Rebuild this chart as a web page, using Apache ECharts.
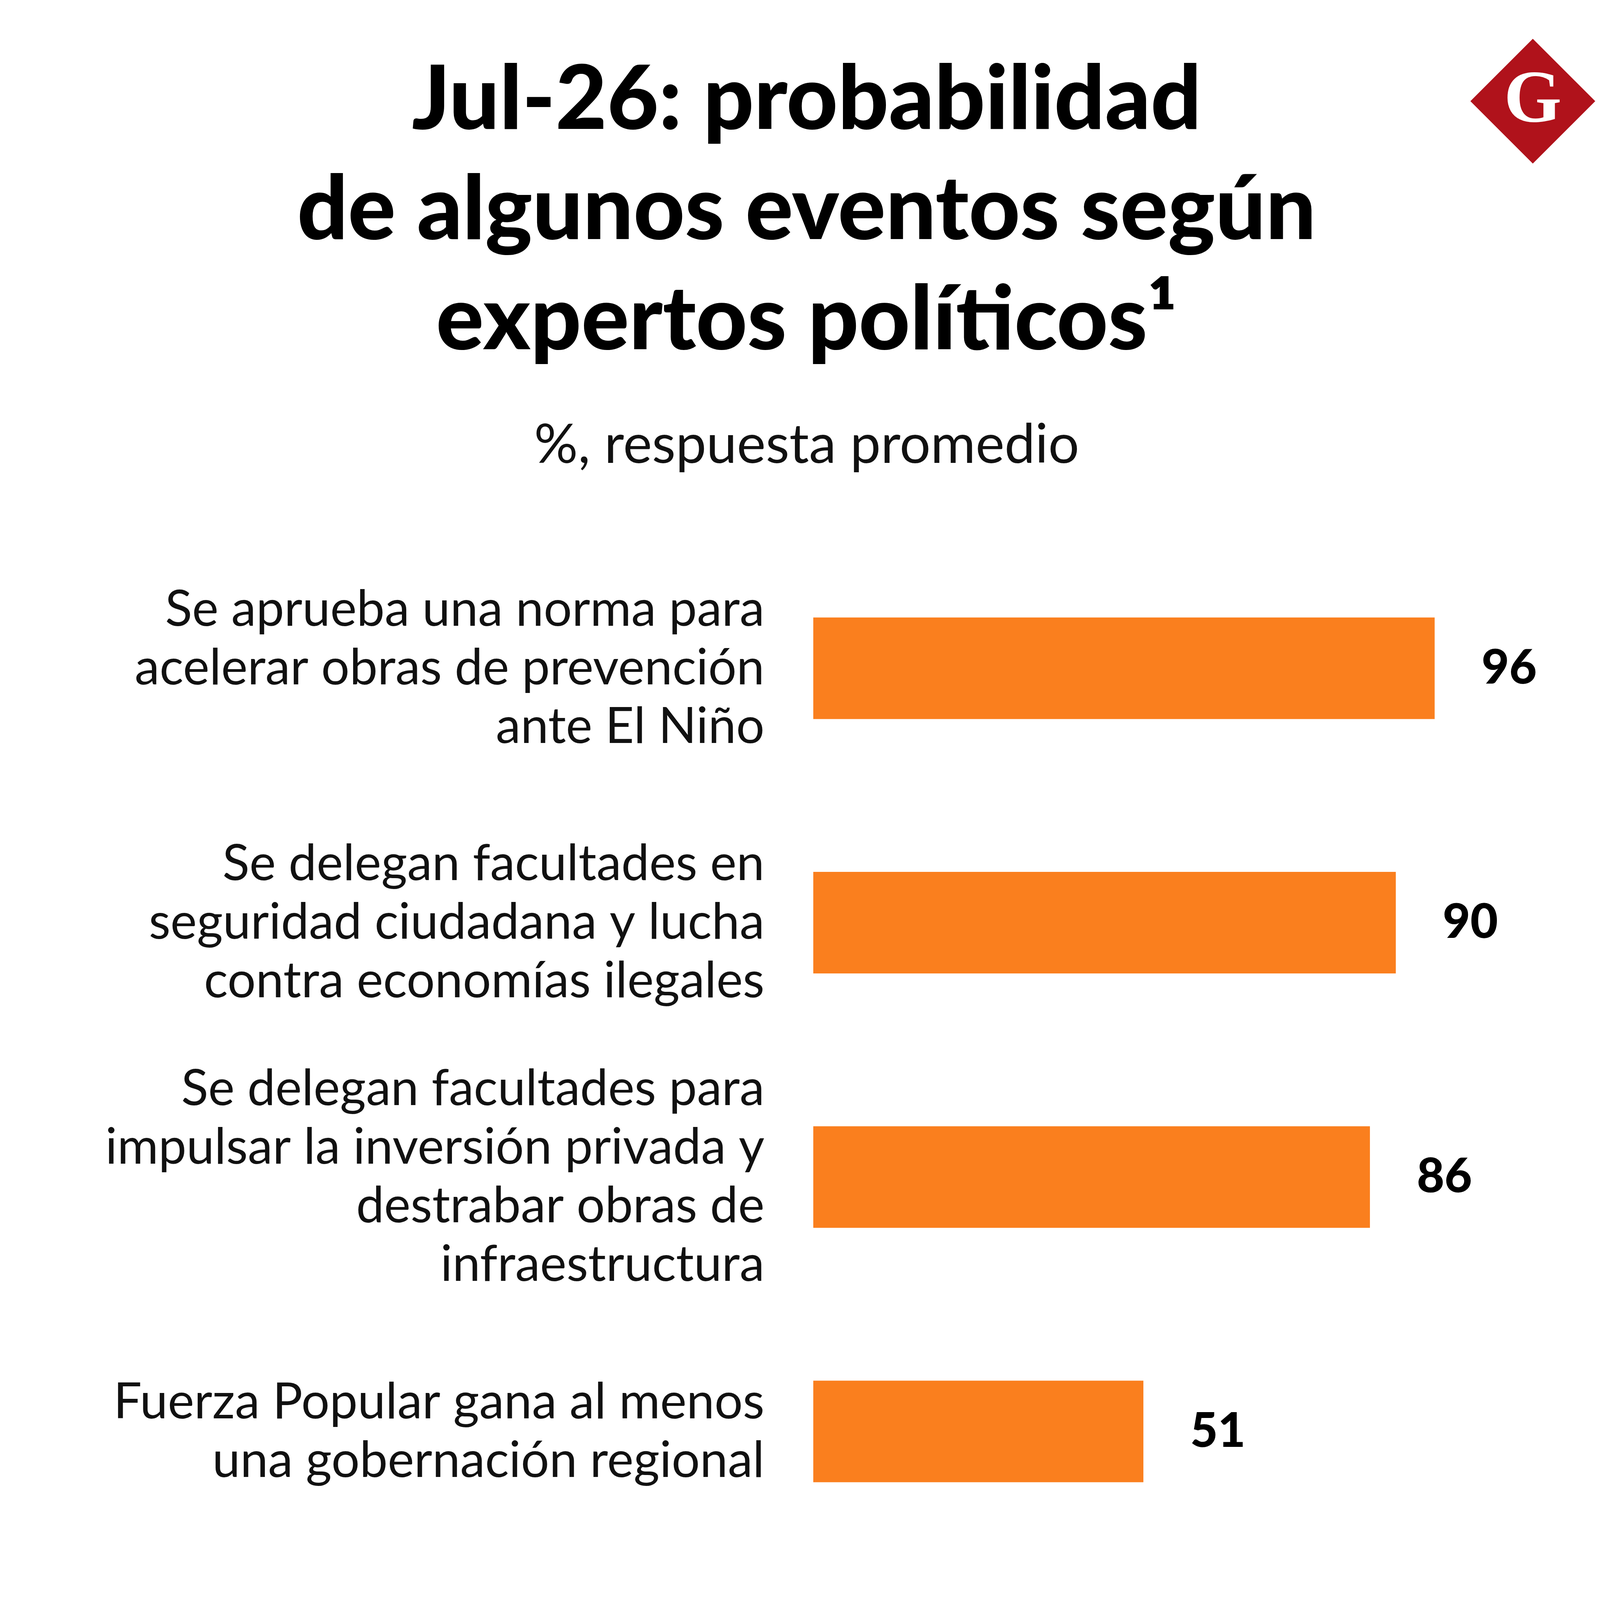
<!DOCTYPE html>
<html>
<head>
<meta charset="utf-8">
<script src="https://cdn.jsdelivr.net/npm/echarts@6/dist/echarts.min.js"></script>
<style>html,body{margin:0;padding:0;background:#fff}#chart{width:4150px;height:5212px}</style>
</head>
<body>
<div id="chart"></div>
<script>
// etiquetas y valores de cada evento
const axisData = [
  'Se aprueba una norma para\nacelerar obras de prevención\nante El Niño',
  'Se delegan facultades en\nseguridad ciudadana y lucha\ncontra economías ilegales',
  'Se delegan facultades para\nimpulsar la inversión privada y\ndestrabar obras de\ninfraestructura',
  'Fuerza Popular gana al menos\nuna gobernación regional'
]
const seriesData = [96, 90, 86, 51]

const Chart = echarts.init(document.getElementById('chart'))
const font = 'Lato, "Open Sans", sans-serif'

Chart.setOption({
  backgroundColor: '#fff',
  title: [
    {
      text: 'Jul-26: probabilidad\nde algunos eventos según\nexpertos políticos¹',
      left: 2060, top: 110, textAlign: 'center',
      textStyle: { fontFamily: font, fontWeight: 900, fontSize: 228, lineHeight: 282, color: '#000' }
    },
    {
      text: '%, respuesta promedio',
      left: 2060, top: 1065, textAlign: 'center',
      textStyle: { fontFamily: font, fontWeight: 'normal', fontSize: 140, color: '#111' }
    }
  ],
  grid: { left: 2082, right: 411, top: 1385, bottom: 1222 },
  xAxis: { type: 'value', min: 0, max: 100, show: false },
  yAxis: {
    type: 'category', inverse: true, data: axisData,
    axisLine: { show: false }, axisTick: { show: false },
    axisLabel: { margin: 125, fontFamily: font, fontSize: 128, lineHeight: 150, color: '#111', align: 'right' }
  },
  series: [{
    type: 'bar', data: seriesData, barWidth: 260,
    itemStyle: { color: '#fa7f1e' },
    label: { show: true, position: 'right', distance: 120, fontFamily: font, fontWeight: 900, fontSize: 122, color: '#000' }
  }],
  graphic: [
    { type: 'rect', rotation: Math.PI / 4, x: 3924, y: 259, shape: { x: -113, y: -113, width: 226, height: 226 }, style: { fill: '#b0121b' } },
    { type: 'text', x: 3924, y: 262, style: { text: 'G', fill: '#fff', font: 'bold 190px "Liberation Serif", serif', align: 'center', verticalAlign: 'middle' } },
    { type: 'text', left: 226, top: 4265, style: { text: '1:  El grado de acuerdo considera la concentración de respuestas a lo\nlargo de cada distribución. 43 expertos políticos consultados.', fill: '#222', font: '112px Lato, "Open Sans", sans-serif', lineHeight: 150 } },
    { type: 'line', shape: { x1: 0, y1: 4724, x2: 4150, y2: 4724 }, style: { stroke: '#bbb', lineWidth: 4 } },
    { type: 'text', left: 226, top: 4893, style: { text: 'FUENTE: APOYO Consultoría', fill: '#222', font: '112px Lato, "Open Sans", sans-serif' } }
  ]
}, true)
</script>
</body>
</html>
